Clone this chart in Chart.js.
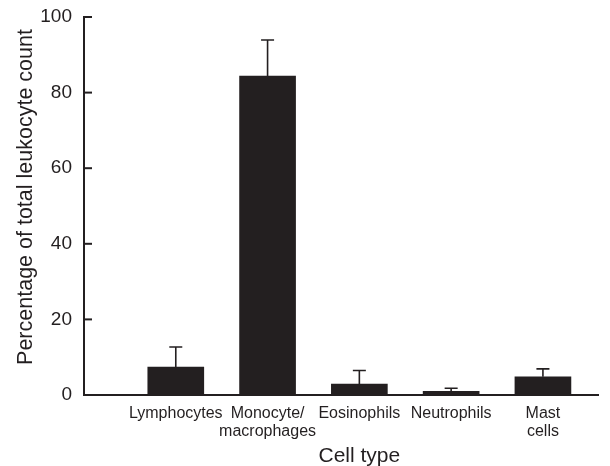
<!DOCTYPE html>
<html>
<head>
<meta charset="utf-8">
<script src="https://cdn.jsdelivr.net/npm/chart.js@4.4.0/dist/chart.umd.min.js"></script>
<style>
html,body{margin:0;padding:0;background:#fff;}
#wrap{width:610px;height:466px;position:relative;}
</style>
</head>
<body>
<div id="wrap"><canvas id="c" width="610" height="466"></canvas></div>
<script>
const categories = ['Lymphocytes', ['Monocyte/', 'macrophages'], 'Eosinophils', 'Neutrophils', ['Mast', 'cells']];
const means = [7.4, 84.4, 2.9, 1.0, 4.8];
const errors = [5.3, 9.5, 3.6, 0.8, 2.1];
const yTicks = [0, 20, 40, 60, 80, 100];
const xTitle = 'Cell type';
const yTitle = 'Percentage of total leukocyte count';

const INK = '#231f20';
const FONT = "'Liberation Sans', Arial, Helvetica, sans-serif";

const errorBars = {
  id: 'errorBars',
  afterDatasetsDraw(chart) {
    const ctx = chart.ctx;
    const ys = chart.scales.y;
    const meta = chart.getDatasetMeta(0);
    ctx.save();
    ctx.strokeStyle = INK;
    ctx.lineWidth = 1.6;
    meta.data.forEach((el, i) => {
      const top = ys.getPixelForValue(means[i] + errors[i]);
      ctx.beginPath();
      ctx.moveTo(el.x, el.y);
      ctx.lineTo(el.x, top);
      ctx.moveTo(el.x - 6.5, top);
      ctx.lineTo(el.x + 6.5, top);
      ctx.stroke();
    });
    ctx.restore();
  }
};

const decor = {
  id: 'decor',
  afterDraw(chart) {
    const ctx = chart.ctx;
    const ys = chart.scales.y;
    const xs = chart.scales.x;
    const left = chart.chartArea.left;
    ctx.save();
    ctx.strokeStyle = INK;
    ctx.lineWidth = 2;
    yTicks.forEach(v => {
      if (v === 0) return;
      const y = ys.getPixelForValue(v);
      ctx.beginPath();
      ctx.moveTo(left, y);
      ctx.lineTo(left + 8, y);
      ctx.stroke();
    });
    // x title centred on the span of the categories
    const cx = (xs.getPixelForValue(0) + xs.getPixelForValue(categories.length - 1)) / 2;
    ctx.fillStyle = INK;
    ctx.font = "21px " + FONT;
    ctx.textAlign = 'center';
    ctx.textBaseline = 'alphabetic';
    ctx.fillText(xTitle, cx, chart.height - 4);
    // y title
    ctx.translate(32, (chart.chartArea.top + chart.chartArea.bottom) / 2 - 9);
    ctx.rotate(-Math.PI / 2);
    ctx.font = "21.5px " + FONT;
    ctx.fillText(yTitle, 0, 0);
    ctx.restore();
  }
};

new Chart(document.getElementById('c'), {
  type: 'bar',
  data: {
    datasets: [{
      data: means.map((v, i) => ({ x: i, y: v })),
      backgroundColor: INK,
      borderWidth: 0,
      barThickness: 56
    }]
  },
  options: {
    responsive: false,
    animation: false,
    layout: { padding: { top: 17, right: 12, left: 0, bottom: 0 } },
    plugins: { legend: { display: false }, tooltip: { enabled: false } },
    scales: {
      x: {
        type: 'linear',
        offset: false,
        min: -1,
        max: 4.6,
        afterBuildTicks: s => { s.ticks = categories.map((c, i) => ({ value: i })); },
        afterFit: s => { s.height = 71; s.paddingLeft = 0; s.paddingRight = 0; },
        grid: { display: false, drawTicks: false, offset: false },
        border: { display: true, color: INK, width: 2 },
        ticks: {
          autoSkip: false, maxRotation: 0, minRotation: 0,
          padding: 9,
          color: INK,
          font: { family: FONT, size: 16, lineHeight: 1.15 },
          callback: (v) => categories[v]
        },
        title: { display: false }
      },
      y: {
        min: 0, max: 100,
        afterBuildTicks: s => { s.ticks = yTicks.map(v => ({ value: v })); },
        afterFit: s => { s.width = 84; s.paddingTop = 0; s.paddingBottom = 0; },
        grid: { display: false, drawTicks: false },
        border: { display: true, color: INK, width: 2 },
        ticks: {
          padding: 12, color: INK,
          font: { family: FONT, size: 19 }
        },
        title: { display: false }
      }
    }
  },
  plugins: [errorBars, decor]
});
</script>
</body>
</html>
